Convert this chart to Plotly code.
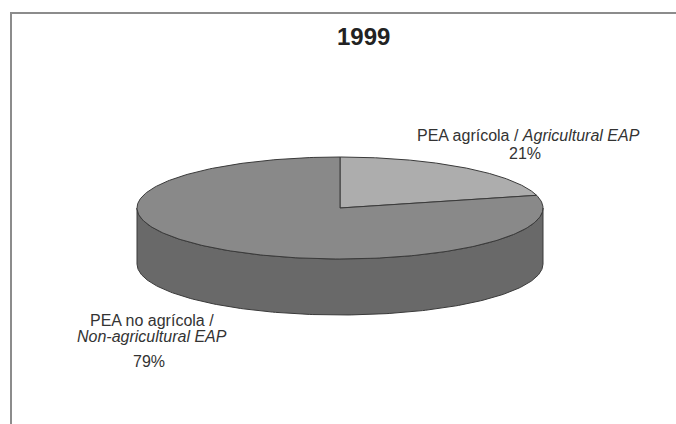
import numpy as np
import plotly.graph_objects as go

# Economically active population, 1999 (percent)
label_lines = [
    ["PEA agrícola / <i>Agricultural EAP</i>"],
    ["PEA no agrícola /", "<i>Non-agricultural EAP</i>"],
]
shares = [21, 79]
year_title = "1999"

top_colors = ["#adadad", "#898989"]
side_colors = ["#8a8a8a", "#696969"]
edge = "#3a3a3a"

W, H = 676, 424
cx, cy = 340, 208      # centre of the top face
rx, ry = 203, 51       # ellipse radii
depth = 56             # thickness of the disc


def pt(theta, dy=0.0):
    # theta measured clockwise from 12 o'clock
    return cx + rx * np.sin(theta), cy - ry * np.cos(theta) + dy


fig = go.Figure()

total = float(sum(shares))
bounds = np.cumsum([0] + shares) / total * 2 * np.pi

# side walls (only the front half, pi/2..3pi/2, is visible)
for i in range(len(shares)):
    a0, a1 = max(bounds[i], np.pi / 2), min(bounds[i + 1], 3 * np.pi / 2)
    if a1 <= a0:
        continue
    t = np.linspace(a0, a1, 200)
    xs_top, ys_top = pt(t)
    xs_bot, ys_bot = pt(t[::-1], depth)
    xs = np.concatenate([xs_top, xs_bot, xs_top[:1]])
    ys = np.concatenate([ys_top, ys_bot, ys_top[:1]])
    fig.add_trace(go.Scatter(x=xs, y=ys, mode="lines", fill="toself",
                             fillcolor=side_colors[i],
                             line=dict(color=edge, width=1),
                             hoverinfo="skip", showlegend=False))

# top faces
for i in range(len(shares)):
    t = np.linspace(bounds[i], bounds[i + 1], 300)
    xs, ys = pt(t)
    xs = np.concatenate([[cx], xs, [cx]])
    ys = np.concatenate([[cy], ys, [cy]])
    fig.add_trace(go.Scatter(x=xs, y=ys, mode="lines", fill="toself",
                             fillcolor=top_colors[i],
                             line=dict(color=edge, width=1),
                             hoverinfo="skip", showlegend=False))

font = dict(family="Liberation Sans, Arial, sans-serif", color="#333333", size=16)

fig.add_annotation(x=363, y=36, text=f"<b>{year_title}</b>", showarrow=False,
                   font=dict(font, size=24, color="#222222"))

# label positions: (x, first-line y, percent y)
label_pos = [(528, 135, 153), (152, 320, 361)]
for lines, share, (lx, ly, py) in zip(label_lines, shares, label_pos):
    for k, line in enumerate(lines):
        fig.add_annotation(x=lx, y=ly + 16 * k, text=line, showarrow=False, font=font)
    fig.add_annotation(x=lx - 3, y=py, text=f"{share}%", showarrow=False, font=font)

# frame lines
fig.add_shape(type="line", xref="paper", yref="paper", x0=10 / W, x1=1,
              y0=1 - 13 / H, y1=1 - 13 / H, line=dict(color="#8c8c8c", width=2))
fig.add_shape(type="line", xref="paper", yref="paper", x0=11 / W, x1=11 / W,
              y0=0, y1=1 - 13 / H, line=dict(color="#8c8c8c", width=2))

fig.update_xaxes(range=[0, W], visible=False, fixedrange=True)
fig.update_yaxes(range=[H, 0], visible=False, fixedrange=True)
fig.update_layout(width=W, height=H, margin=dict(l=0, r=0, t=0, b=0),
                  paper_bgcolor="white", plot_bgcolor="white")

fig.write_html("out.html")
